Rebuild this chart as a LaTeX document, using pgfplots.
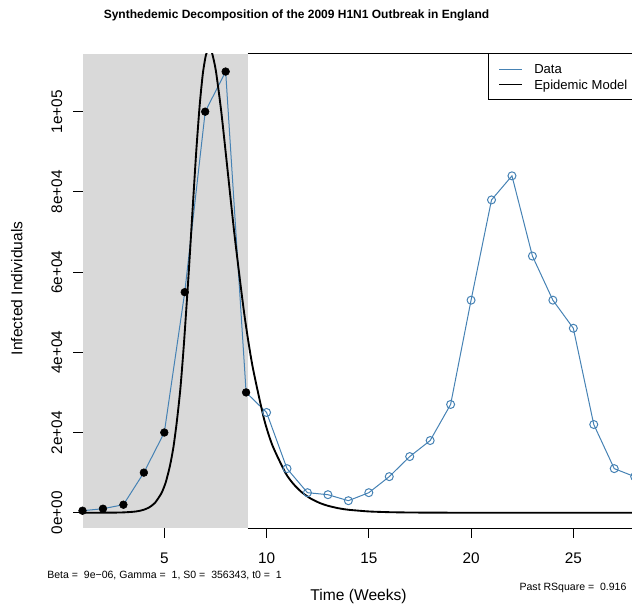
\documentclass[border=0pt]{standalone}
\usepackage{pgfplots}
\usepackage{pgfplotstable}
\pgfplotsset{compat=1.18}
\usepackage{fontspec}
\setmainfont{Liberation Sans}
\definecolor{steel}{RGB}{70,130,180}
\definecolor{grey85}{RGB}{217,217,217}

\pgfplotstableread{
t I
1 500
2 1000
3 2000
4 10000
5 20000
6 55000
7 100000
8 110000
9 30000
10 25000
11 11000
12 5000
13 4500
14 3000
15 5000
16 9000
17 14000
18 18000
19 27000
20 53000
21 78000
22 84000
23 64000
24 53000
25 46000
26 22000
27 11000
28 9000
}\datatable

\pgfplotstableread{
t I
1 500
2 1000
3 2000
4 10000
5 20000
6 55000
7 100000
8 110000
9 30000
}\pasttable

\pgfplotstableread{
t I
10 25000
11 11000
12 5000
13 4500
14 3000
15 5000
16 9000
17 14000
18 18000
19 27000
20 53000
21 78000
22 84000
23 64000
24 53000
25 46000
26 22000
27 11000
28 9000
}\futuretable

\pgfplotstableread{
t I
1 1
1.5 3
2 9
2.5 27
3 83
3.5 249
3.75 432
4 751
4.25 1304
4.539 2436
4.856 4835
5.07 7577
5.282 11825
5.45 16483
5.614 22800
5.79 31170
5.963 42373
6.183 59025
6.352 73036
6.556 89641
6.73 101612
6.887 109594
7.036 114142
7.181 115735
7.325 114785
7.522 110166
7.786 99977
8.084 85896
8.444 68786
8.917 49316
9.307 36724
9.868 23564
10.286 16799
10.927 9915
11.3 7259
11.683 5270
12.1 3707
12.587 2460
13 1734
13.5 1135
14 743
15 319
16 137
17 59
18 25
19 11
20 5
22 1
28 0
}\modeltable

\begin{document}
\begin{tikzpicture}
\begin{axis}[name=ax, scale only axis, width=414.1pt, height=355.7pt,
  xmin=1, xmax=28, ymin=-3880, ymax=114380,
  scaled y ticks=false, scaled x ticks=false,
  axis line style={draw=none},
  tick align=outside, major tick length=7pt,
  tick style={black, line width=0.75pt},
  xtick={5,10,15,20,25}, xticklabels={5,10,15,20,25},
  ytick={0,20000,40000,60000,80000,100000},
  yticklabels={0e+00,2e+04,4e+04,6e+04,8e+04,1e+05},
  xtick pos=left, ytick pos=left,
  tick label style={font=\fontsize{11.5}{13}\selectfont},
  xticklabel style={anchor=base, inner sep=0pt},
  yticklabel style={rotate=90, anchor=base, inner sep=0pt},
  xticklabel shift=19.6pt, yticklabel shift=8.3pt,
  xlabel={Time (Weeks)}, ylabel={Infected Individuals},
  label style={font=\fontsize{11.7}{13}\selectfont},
  xlabel style={at={(axis description cs:0.5,-0.15224)}, anchor=base, inner sep=0pt},
  ylabel style={at={(axis description cs:-0.10903,0.506)}, anchor=base, inner sep=0pt},
  title={Synthedemic Decomposition of the 2009 H1N1 Outbreak in England},
  title style={at={(axis description cs:0.3876,1.05777)}, anchor=base, inner sep=0pt, font=\bfseries\fontsize{9}{11}\selectfont},
]
\addplot[fill=grey85, draw=none] coordinates {(1,-3880) (9.08,-3880) (9.08,114380) (1,114380)};
\addplot[steel, line width=0.75pt, mark=none] table[x=t, y=I] {\datatable};
\addplot[only marks, mark=*, mark size=2.9pt, mark options={fill=black, draw=black}] table[x=t, y=I] {\pasttable};
\addplot[only marks, mark=o, mark size=3pt, mark options={draw=steel, line width=0.75pt}] table[x=t, y=I] {\futuretable};
\addplot[black, line width=1.4pt, smooth, tension=0.4, mark=none] table[x=t, y=I] {\modeltable};
\end{axis}
% frame lines outside the shaded block
\draw[black, line width=0.75pt] ([xshift=123.9pt]ax.south west) -- ([xshift=20pt]ax.south east);
\draw[black, line width=0.75pt] ([xshift=123.9pt]ax.north west) -- ([xshift=20pt]ax.north east);
% legend
\draw[black, line width=0.75pt, fill=white] ([xshift=304.35pt]ax.north west) rectangle ([xshift=430pt, yshift=-34.5pt]ax.north west);
\draw[steel, line width=0.75pt] ([xshift=312.4pt, yshift=-11.5pt]ax.north west) -- ++(17.5pt,0);
\draw[black, line width=0.75pt] ([xshift=312.4pt, yshift=-22.7pt]ax.north west) -- ++(17.5pt,0);
\node[anchor=base west, inner sep=0pt, font=\fontsize{9.8}{11}\selectfont] at ([xshift=338.6pt, yshift=-15pt]ax.north west) {Data};
\node[anchor=base west, inner sep=0pt, font=\fontsize{9.8}{11}\selectfont] at ([xshift=338.6pt, yshift=-26.6pt]ax.north west) {Epidemic Model};
% annotations
\node[anchor=base west, inner sep=0pt, font=\fontsize{7.9}{9}\selectfont] at ([xshift=-26.6pt, yshift=-38pt]ax.south west) {Beta =\ \ 9e−06, Gamma =\ \ 1, S0 =\ \ 356343, t0 =\ \ 1};
\node[anchor=base west, inner sep=0pt, font=\fontsize{7.9}{9}\selectfont] at ([xshift=327.6pt, yshift=-46.3pt]ax.south west) {Past RSquare =\ \ 0.916};
\pgfresetboundingbox
\path[use as bounding box] ([xshift=-61.875pt, yshift=-60.5pt]ax.south west) rectangle ([xshift=412.1pt, yshift=40.5pt]ax.north west);
\end{tikzpicture}
\end{document}
